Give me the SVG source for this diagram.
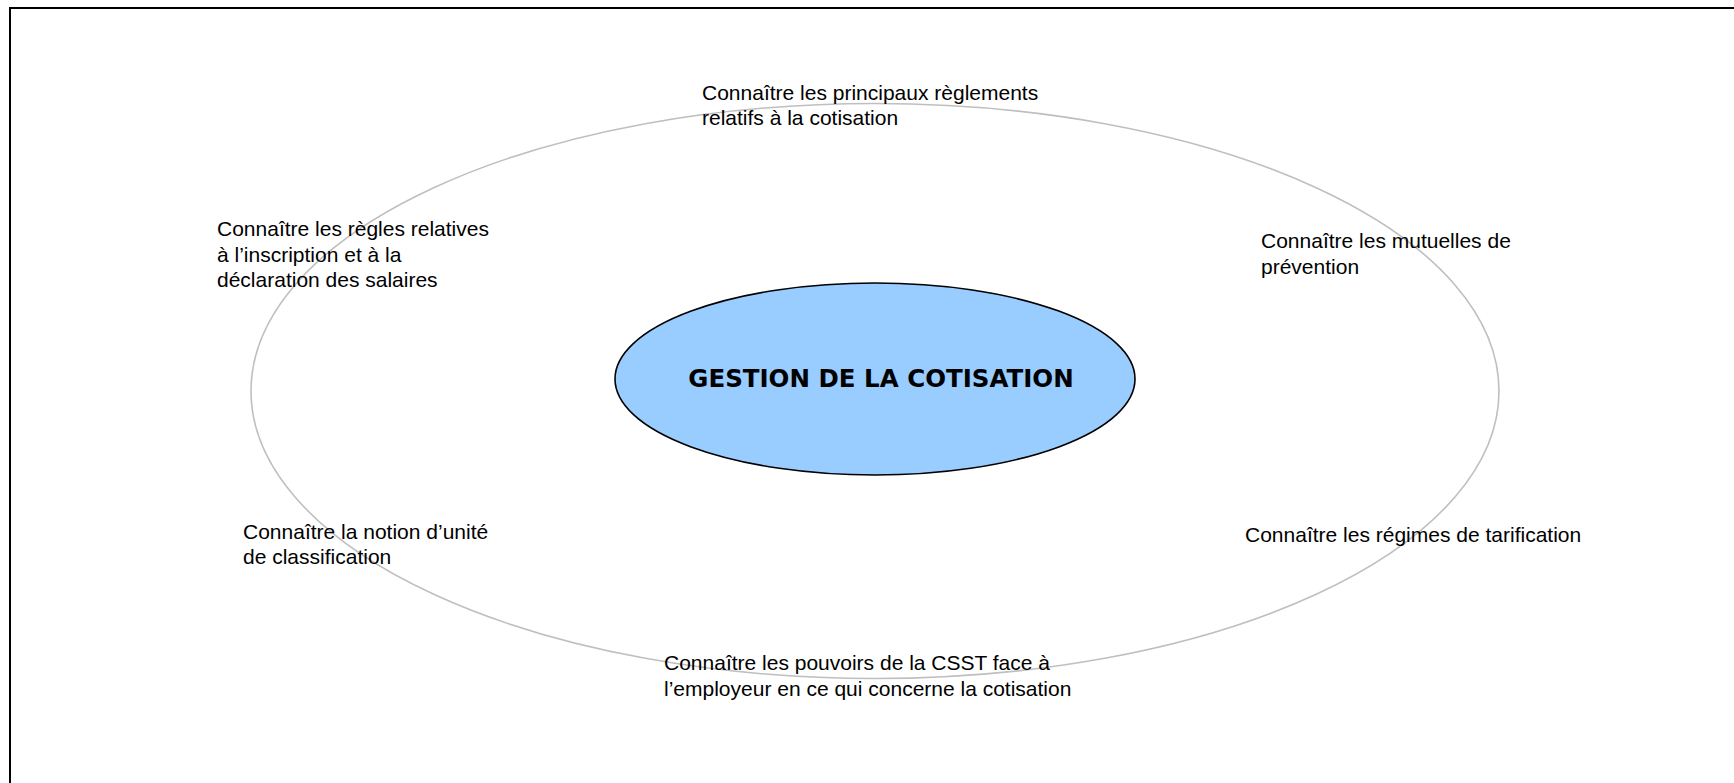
<svg xmlns="http://www.w3.org/2000/svg" width="1734" height="783" viewBox="0 0 1734 783">
<style>
.lbl{font-family:"Liberation Sans",Arial,sans-serif;font-size:21px;fill:#000}
.title{font-family:"DejaVu Sans",Verdana,sans-serif;font-size:24.5px;font-weight:bold;fill:#000}
</style>
<rect x="0" y="0" width="1734" height="783" fill="#fff"/>
<path d="M10 790 V8 H1740" fill="none" stroke="#000" stroke-width="2"/>
<g id="ring">
<ellipse cx="875" cy="391" rx="624" ry="287.5" fill="none" stroke="#BFBFBF" stroke-width="1.6"/>
</g>
<g id="connectors"></g>
<g id="center">
<ellipse cx="875" cy="379" rx="260" ry="96" fill="#99CCFF" stroke="#000" stroke-width="1.6"/>
<text class="title" x="881" y="387" text-anchor="middle">GESTION DE LA COTISATION</text>
</g>
<g id="n-reglements">
<text class="lbl" x="702" y="99.5">Connaître les principaux règlements</text>
<text class="lbl" x="702" y="125">relatifs à la cotisation</text>
</g>
<g id="n-inscription">
<text class="lbl" x="217" y="236">Connaître les règles relatives</text>
<text class="lbl" x="217" y="261.5">à l’inscription et à la</text>
<text class="lbl" x="217" y="287">déclaration des salaires</text>
</g>
<g id="n-mutuelles">
<text class="lbl" x="1261" y="248">Connaître les mutuelles de</text>
<text class="lbl" x="1261" y="273.5">prévention</text>
</g>
<g id="n-unite">
<text class="lbl" x="243" y="538.5">Connaître la notion d’unité</text>
<text class="lbl" x="243" y="564">de classification</text>
</g>
<g id="n-tarification">
<text class="lbl" x="1245" y="542">Connaître les régimes de tarification</text>
</g>
<g id="n-pouvoirs">
<text class="lbl" x="664" y="670">Connaître les pouvoirs de la CSST face à</text>
<text class="lbl" x="664" y="695.5">l’employeur en ce qui concerne la cotisation</text>
</g>
</svg>
